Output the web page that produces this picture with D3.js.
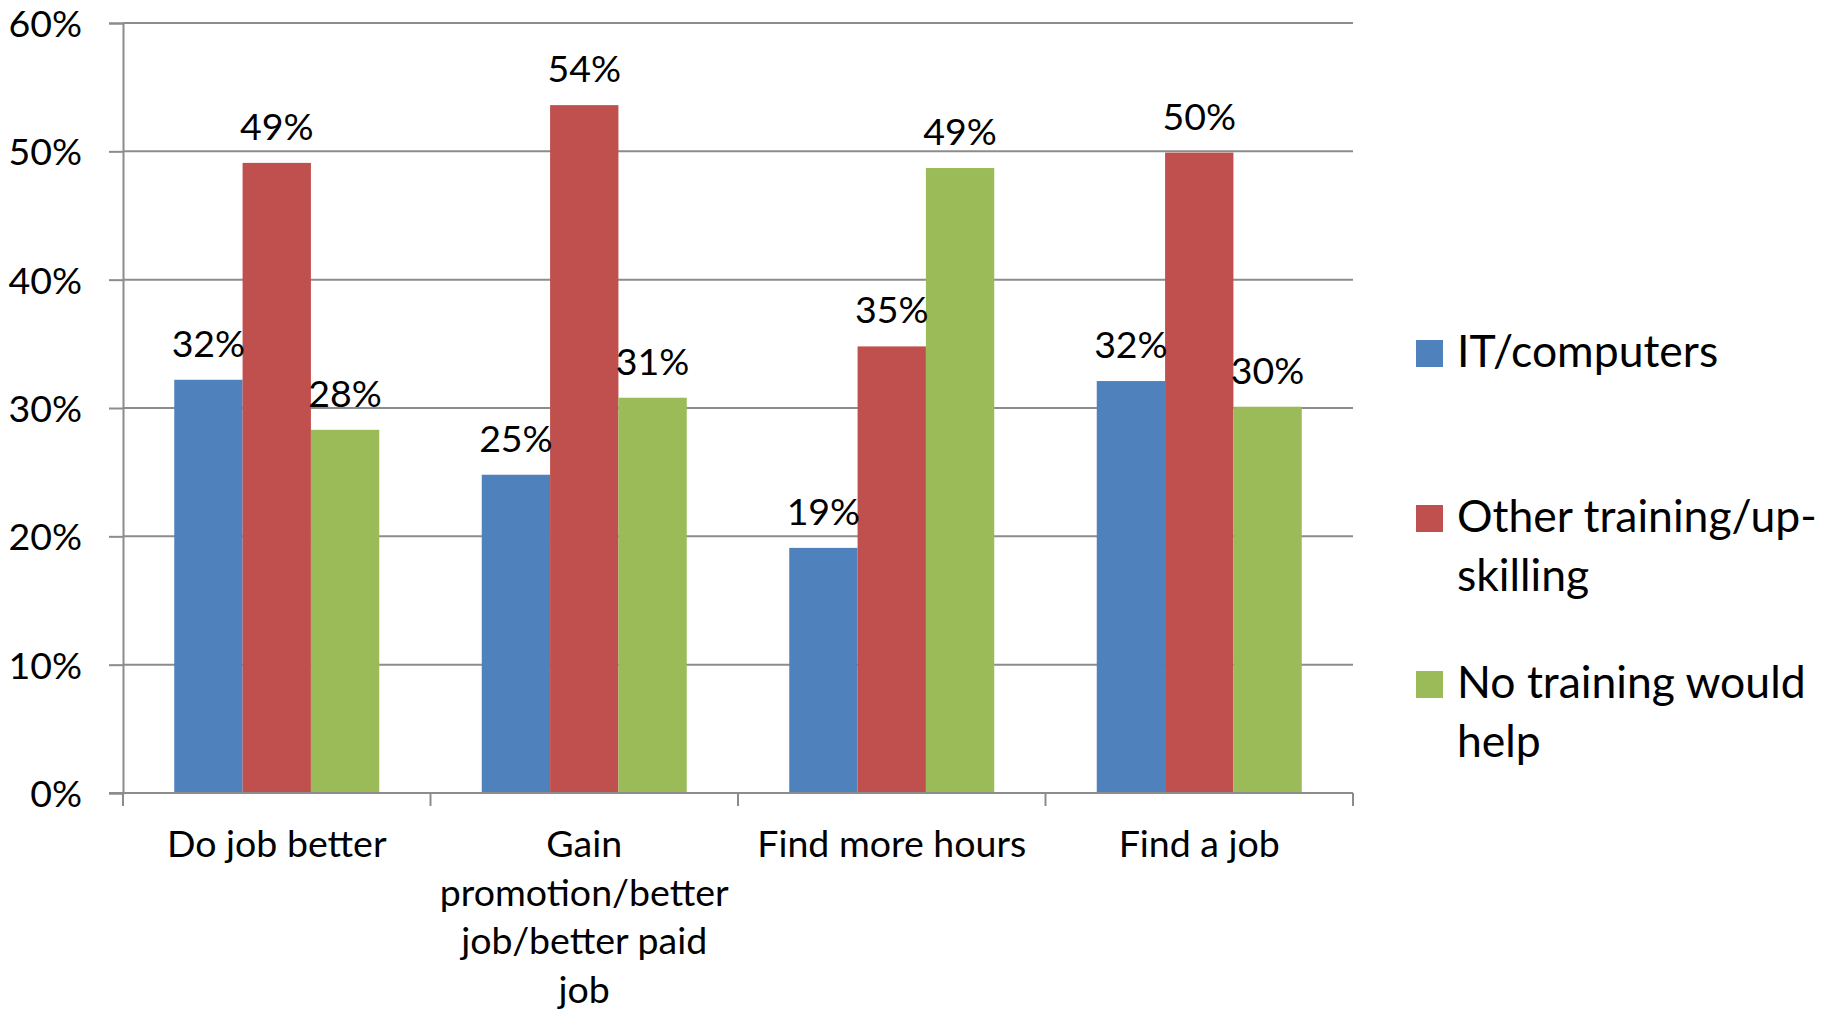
<!DOCTYPE html>
<html><head><meta charset="utf-8">
<script src="https://cdn.jsdelivr.net/npm/d3@7"></script>
<style>
html,body{margin:0;padding:0;background:#fff;}
svg{display:block;font-family:Lato,"Open Sans",sans-serif;}
</style></head>
<body>
<svg id="chart" width="1831" height="1010"></svg>
<script>
const categories = ["Do job better","Gain promotion/better job/better paid job","Find more hours","Find a job"];
const categoryLines = [["Do job better"],["Gain","promotion/better","job/better paid","job"],["Find more hours"],["Find a job"]];
const seriesNames = ["IT/computers","Other training/up-skilling","No training would help"];
const legendLines = [["IT/computers"],["Other training/up-","skilling"],["No training would","help"]];
const itComputers = [0.322, 0.248, 0.191, 0.321];
const otherTraining = [0.491, 0.536, 0.348, 0.499];
const noTraining = [0.283, 0.308, 0.487, 0.301];
const yTicks = [0,0.1,0.2,0.3,0.4,0.5,0.6];
const colors = ["#4F81BD","#C0504D","#9BBB59"];

(function(){
const seriesValues = [itComputers, otherTraining, noTraining];
const svg = d3.select("#chart");
const pLeft = 123, pRight = 1353, pTop = 23, pBottom = 793;
const fontSize = 37.5, legendFont = 44.5;

const x0 = d3.scaleBand().domain(categories).range([pLeft,pRight]).padding(0);
const x1 = d3.scaleBand().domain(seriesNames).range([0,x0.bandwidth()]).paddingInner(0).paddingOuter(0.75);
const y = d3.scaleLinear().domain([0,0.6]).range([pBottom,pTop]);

svg.append("g").selectAll("line").data(yTicks.slice(1)).join("line")
  .attr("x1",pLeft).attr("x2",pRight).attr("y1",d=>y(d)).attr("y2",d=>y(d))
  .attr("stroke","#8c8c8c").attr("stroke-width",2);

const yAxis = d3.axisLeft(y).tickValues(yTicks).tickFormat(d3.format(".0%")).tickSize(14).tickPadding(27);
const gy = svg.append("g").attr("transform",`translate(${pLeft},0)`).call(yAxis);
gy.select(".domain").attr("stroke","#8c8c8c").attr("stroke-width",2);
gy.selectAll(".tick line").attr("stroke","#8c8c8c").attr("stroke-width",2);
gy.selectAll(".tick text").attr("font-size",fontSize).attr("font-family","Lato").attr("fill","#000").attr("dy","0.36em");

const groups = svg.append("g").selectAll("g").data(categories).join("g")
  .attr("transform",c=>`translate(${x0(c)},0)`);
groups.selectAll("rect").data((c,i)=>seriesNames.map((s,j)=>({s,j,v:seriesValues[j][i]}))).join("rect")
  .attr("x",d=>x1(d.s)).attr("width",x1.bandwidth())
  .attr("y",d=>y(d.v)).attr("height",d=>y(0)-y(d.v))
  .attr("fill",d=>colors[d.j]);
groups.selectAll("text.lbl").data((c,i)=>seriesNames.map((s,j)=>({s,j,v:seriesValues[j][i]}))).join("text")
  .attr("class","lbl")
  .attr("x",d=>x1(d.s)+x1.bandwidth()/2).attr("y",d=>y(d.v)-23)
  .attr("text-anchor","middle").attr("font-size",fontSize).attr("fill","#000")
  .text(d=>Math.round(d.v*100)+"%");

svg.append("line").attr("x1",pLeft-14).attr("x2",pRight).attr("y1",pBottom).attr("y2",pBottom)
  .attr("stroke","#8c8c8c").attr("stroke-width",2);
const boundaries = categories.map(c=>x0(c)).concat([pRight]);
svg.append("g").selectAll("line").data(boundaries).join("line")
  .attr("x1",d=>d).attr("x2",d=>d).attr("y1",pBottom).attr("y2",pBottom+13)
  .attr("stroke","#8c8c8c").attr("stroke-width",2);

const cl = svg.append("g").selectAll("text").data(categories).join("text")
  .attr("x",c=>x0(c)+x0.bandwidth()/2).attr("y",857)
  .attr("text-anchor","middle").attr("font-size",fontSize).attr("fill","#000");
cl.each(function(c,i){
  d3.select(this).selectAll("tspan").data(categoryLines[i]).join("tspan")
    .attr("x",x0(c)+x0.bandwidth()/2).attr("dy",(d,k)=>k===0?0:48.5).text(d=>d);
});

const legendBase = [367, 532, 698];
const lg = svg.append("g").selectAll("g").data(seriesNames).join("g");
lg.append("rect").attr("x",1416).attr("y",(d,i)=>legendBase[i]-27).attr("width",27).attr("height",27)
  .attr("fill",(d,i)=>colors[i]);
lg.append("text").attr("x",1457).attr("y",(d,i)=>legendBase[i]).attr("font-size",legendFont).attr("fill","#000")
  .each(function(d,i){
    d3.select(this).selectAll("tspan").data(legendLines[i]).join("tspan")
      .attr("x",1457).attr("dy",(t,k)=>k===0?0:58.5).text(t=>t);
  });
})();
</script>
</body></html>
